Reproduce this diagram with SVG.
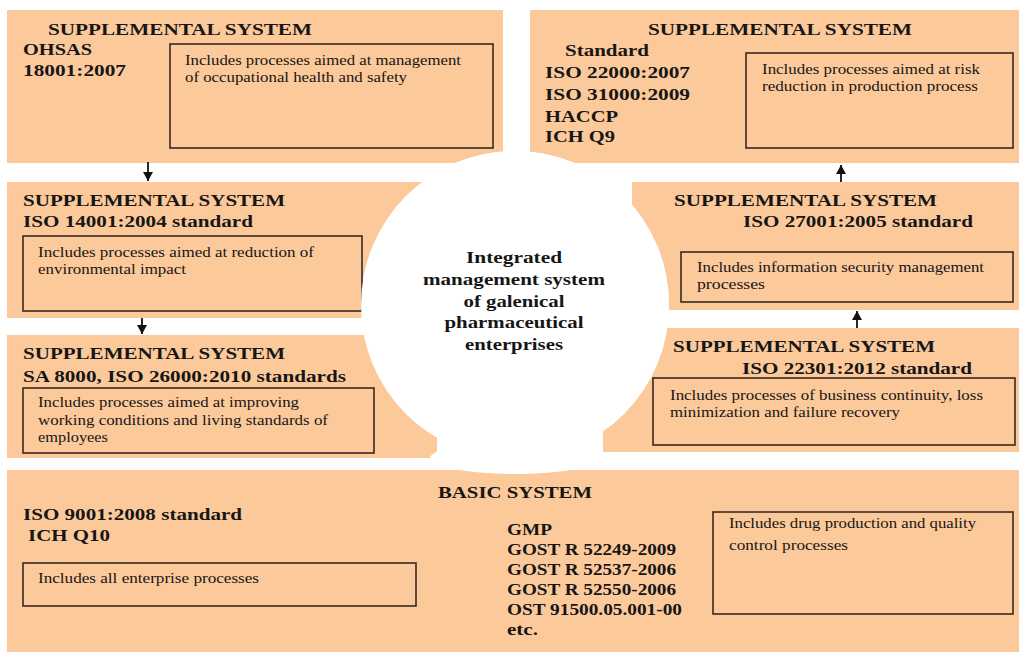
<svg xmlns="http://www.w3.org/2000/svg" width="1019" height="652" viewBox="0 0 1019 652">
<style>
.panel{fill:#FCC99B}
.box{fill:none;stroke:#3a2a22;stroke-width:1.6}
.h{font-family:"Liberation Serif","Times New Roman",serif;font-weight:bold;font-size:17.5px;fill:#161616}
.t{font-family:"Liberation Serif","Times New Roman",serif;font-size:14px;fill:#161616}
.c{font-family:"Liberation Serif","Times New Roman",serif;font-weight:bold;font-size:17.5px;fill:#161616;text-anchor:middle}
.conn{stroke:#111;stroke-width:1.8;fill:none;marker-end:url(#ah)}
</style>
<defs>
<mask id="cut" maskUnits="userSpaceOnUse" x="0" y="0" width="1019" height="652">
<rect x="0" y="0" width="1019" height="652" fill="#fff"/>
<circle cx="515" cy="305" r="154" fill="#000"/>
<ellipse cx="515" cy="458" rx="85" ry="16" fill="#000"/>
</mask>
<marker id="ah" markerWidth="12" markerHeight="12" refX="9" refY="5" orient="auto" markerUnits="userSpaceOnUse">
<path d="M0,0 L9,5 L0,10 Z" fill="#111"/>
</marker>
</defs>
<rect x="0" y="0" width="1019" height="652" fill="#fff"/>

<g id="supp-ohsas">
<rect class="panel" x="7" y="10" width="496" height="153" mask="url(#cut)"/>
<rect class="box" x="170" y="44" width="323" height="104"/>
<text class="h" x="48" y="35" textLength="264" lengthAdjust="spacingAndGlyphs">SUPPLEMENTAL SYSTEM</text>
<text class="h" x="23" y="55" textLength="69" lengthAdjust="spacingAndGlyphs">OHSAS</text>
<text class="h" x="23" y="76" textLength="103" lengthAdjust="spacingAndGlyphs">18001:2007</text>
<text class="t" x="185" y="65" textLength="276" lengthAdjust="spacingAndGlyphs">Includes processes aimed at management</text>
<text class="t" x="185" y="82" textLength="222" lengthAdjust="spacingAndGlyphs">of occupational health  and safety</text>
</g>

<g id="supp-iso22000">
<rect class="panel" x="530" y="10" width="489" height="153" mask="url(#cut)"/>
<rect class="box" x="746" y="53" width="267" height="95"/>
<text class="h" x="648" y="35" textLength="264" lengthAdjust="spacingAndGlyphs">SUPPLEMENTAL SYSTEM</text>
<text class="h" x="565" y="56" textLength="84" lengthAdjust="spacingAndGlyphs">Standard</text>
<text class="h" x="545" y="78" textLength="145" lengthAdjust="spacingAndGlyphs">ISO 22000:2007</text>
<text class="h" x="545" y="100" textLength="145" lengthAdjust="spacingAndGlyphs">ISO 31000:2009</text>
<text class="h" x="545" y="122" textLength="73" lengthAdjust="spacingAndGlyphs">HACCP</text>
<text class="h" x="545" y="142" textLength="70" lengthAdjust="spacingAndGlyphs">ICH Q9</text>
<text class="t" x="762" y="74" textLength="218" lengthAdjust="spacingAndGlyphs">Includes processes aimed at risk</text>
<text class="t" x="762" y="91" textLength="216" lengthAdjust="spacingAndGlyphs">reduction in production process</text>
</g>

<g id="supp-iso14001">
<rect class="panel" x="7" y="182" width="500" height="136" mask="url(#cut)"/>
<rect class="box" x="23" y="236" width="339" height="75"/>
<text class="h" x="23" y="206" textLength="262" lengthAdjust="spacingAndGlyphs">SUPPLEMENTAL SYSTEM</text>
<text class="h" x="23" y="227" textLength="230" lengthAdjust="spacingAndGlyphs">ISO 14001:2004 standard</text>
<text class="t" x="38" y="257" textLength="276" lengthAdjust="spacingAndGlyphs">Includes processes aimed at reduction of</text>
<text class="t" x="38" y="274" textLength="148" lengthAdjust="spacingAndGlyphs">environmental  impact</text>
</g>

<g id="supp-sa8000">
<rect class="panel" x="7" y="335" width="430" height="123" mask="url(#cut)"/>
<rect class="box" x="23" y="388" width="351" height="65"/>
<text class="h" x="23" y="359" textLength="262" lengthAdjust="spacingAndGlyphs">SUPPLEMENTAL SYSTEM</text>
<text class="h" x="23" y="382" textLength="323" lengthAdjust="spacingAndGlyphs">SA 8000, ISO 26000:2010 standards</text>
<text class="t" x="38" y="407" textLength="261" lengthAdjust="spacingAndGlyphs">Includes processes aimed at improving</text>
<text class="t" x="38" y="425" textLength="290" lengthAdjust="spacingAndGlyphs">working  conditions and living  standards of</text>
<text class="t" x="38" y="442" textLength="70" lengthAdjust="spacingAndGlyphs">employees</text>
</g>

<g id="supp-iso27001">
<rect class="panel" x="632" y="182" width="387" height="128" mask="url(#cut)"/>
<rect class="box" x="681" y="252" width="332" height="50"/>
<text class="h" x="674" y="206" textLength="263" lengthAdjust="spacingAndGlyphs">SUPPLEMENTAL SYSTEM</text>
<text class="h" x="743" y="227" textLength="230" lengthAdjust="spacingAndGlyphs">ISO 27001:2005 standard</text>
<text class="t" x="697" y="272" textLength="287" lengthAdjust="spacingAndGlyphs">Includes information  security management</text>
<text class="t" x="697" y="289" textLength="68" lengthAdjust="spacingAndGlyphs">processes</text>
</g>

<g id="supp-iso22301">
<rect class="panel" x="603" y="328" width="416" height="124" mask="url(#cut)"/>
<rect class="box" x="653" y="378" width="362" height="67"/>
<text class="h" x="673" y="352" textLength="262" lengthAdjust="spacingAndGlyphs">SUPPLEMENTAL SYSTEM</text>
<text class="h" x="742" y="374" textLength="230" lengthAdjust="spacingAndGlyphs">ISO 22301:2012 standard</text>
<text class="t" x="670" y="400" textLength="313" lengthAdjust="spacingAndGlyphs">Includes processes of business continuity, loss</text>
<text class="t" x="670" y="417" textLength="230" lengthAdjust="spacingAndGlyphs">minimization  and failure recovery</text>
</g>

<g id="basic-system">
<rect class="panel" x="7" y="470" width="1012" height="182" mask="url(#cut)"/>
<rect class="box" x="23" y="563" width="393" height="43"/>
<rect class="box" x="713" y="512" width="300" height="102"/>
<text class="h" x="438" y="498" textLength="154" lengthAdjust="spacingAndGlyphs">BASIC SYSTEM</text>
<text class="h" x="23" y="520" textLength="219" lengthAdjust="spacingAndGlyphs">ISO 9001:2008 standard</text>
<text class="h" x="28" y="541" textLength="82" lengthAdjust="spacingAndGlyphs">ICH Q10</text>
<text class="t" x="38" y="583" textLength="221" lengthAdjust="spacingAndGlyphs">Includes all enterprise processes</text>
<text class="h" x="507" y="535" textLength="45" lengthAdjust="spacingAndGlyphs">GMP</text>
<text class="h" x="507" y="555" textLength="169" lengthAdjust="spacingAndGlyphs">GOST R 52249-2009</text>
<text class="h" x="507" y="575" textLength="169" lengthAdjust="spacingAndGlyphs">GOST R 52537-2006</text>
<text class="h" x="507" y="595" textLength="169" lengthAdjust="spacingAndGlyphs">GOST R 52550-2006</text>
<text class="h" x="507" y="615" textLength="175" lengthAdjust="spacingAndGlyphs">OST 91500.05.001-00</text>
<text class="h" x="507" y="635" textLength="31" lengthAdjust="spacingAndGlyphs">etc.</text>
<text class="t" x="729" y="528" textLength="247" lengthAdjust="spacingAndGlyphs">Includes drug production and quality</text>
<text class="t" x="729" y="550" textLength="119" lengthAdjust="spacingAndGlyphs">control processes</text>
</g>

<g id="center">
<circle cx="515" cy="305" r="154" fill="#fff"/>
<text class="c" x="514" y="263" textLength="96" lengthAdjust="spacingAndGlyphs">Integrated</text>
<text class="c" x="514" y="285" textLength="182" lengthAdjust="spacingAndGlyphs">management system</text>
<text class="c" x="514" y="307" textLength="101" lengthAdjust="spacingAndGlyphs">of galenical</text>
<text class="c" x="514" y="328" textLength="139" lengthAdjust="spacingAndGlyphs">pharmaceutical</text>
<text class="c" x="514" y="350" textLength="98" lengthAdjust="spacingAndGlyphs">enterprises</text>
</g>

<g id="connectors">
<path class="conn" d="M148,162 L148,181"/>
<path class="conn" d="M142,318 L142,334"/>
<path class="conn" d="M841,182 L841,165"/>
<path class="conn" d="M857,328 L857,311"/>
</g>
</svg>
